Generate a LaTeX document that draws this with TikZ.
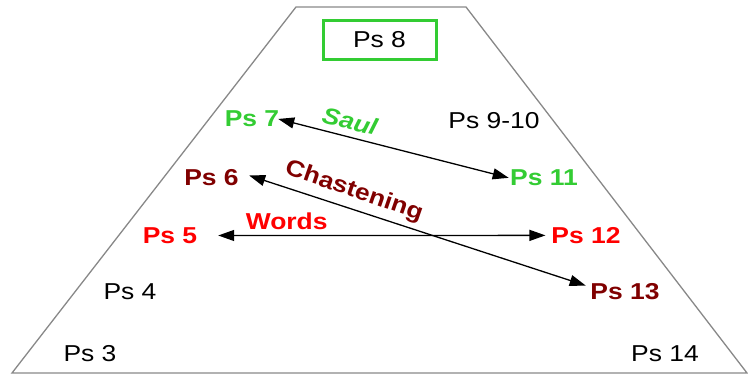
\documentclass[tikz,border=0pt]{standalone}
\usepackage{fontspec}
\setmainfont{Liberation Sans}[FakeStretch=1.15]
\usetikzlibrary{arrows.meta}
\definecolor{pgreen}{RGB}{51,204,51}
\definecolor{pred}{RGB}{255,0,0}
\definecolor{pdark}{RGB}{128,0,0}
\definecolor{pgray}{RGB}{136,136,136}
\tikzset{
  lbl/.style={inner sep=0pt, outer sep=0pt, font=\fontsize{23}{27}\selectfont, anchor=base},
  blbl/.style={lbl, font=\fontsize{23}{27}\selectfont\bfseries},
  conn/.style={line width=1.3pt, {Triangle[length=16pt,width=11pt]}-{Triangle[length=16pt,width=11pt]}},
  frame/.style={draw=pgray, line width=1.3pt},
}
\begin{document}
\begin{tikzpicture}[x=1pt,y=-1pt]
\useasboundingbox (0,0) rectangle (748,377);
\draw[frame] (296,7) -- (466,7) -- (747,373) -- (12,373) -- cycle;
\node[draw=pgreen, line width=2.6pt, minimum width=113pt, minimum height=39pt, inner sep=0pt] (box8) at (380,40) {};
\node[lbl] (p8) at (379.5,47.3) {Ps 8};
\node[blbl, text=pgreen] (p7) at (252,127) {Ps 7};
\node[lbl] (p910) at (494,128.3) {Ps 9-10};
\node[blbl, text=pgreen] (p11) at (544,186) {Ps 11};
\node[blbl, text=pdark] (p6) at (211.5,186) {Ps 6};
\node[blbl, text=pred] (p5) at (170,243.3) {Ps 5};
\node[blbl, text=pred] (p12) at (586,243.3) {Ps 12};
\node[lbl] (p4) at (130,300) {Ps 4};
\node[blbl, text=pdark] (p13) at (625,300) {Ps 13};
\node[lbl] (p3) at (90,361.5) {Ps 3};
\node[lbl] (p14) at (665,361.5) {Ps 14};
\draw[conn, shorten <=-1pt, shorten >=1.5pt] (p7.east) -- (p11.west);
\draw[conn, shorten <=11pt, shorten >=5pt] ([yshift=6pt]p6.east) -- ([yshift=5pt]p13.west);
\draw[conn, shorten <=21pt, shorten >=6pt] (p5.east) -- (p12.west);
\node[blbl, anchor=center, text=pgreen, font=\fontsize{23}{27}\selectfont\bfseries\itshape, rotate=-14] (saul) at (350,121) {Saul};
\node[blbl, anchor=center, text=pdark, rotate=-19] (chast) at (354,191.5) {Chastening};
\node[blbl, text=pred] (words) at (286.7,230) {Words};
\end{tikzpicture}
\end{document}
